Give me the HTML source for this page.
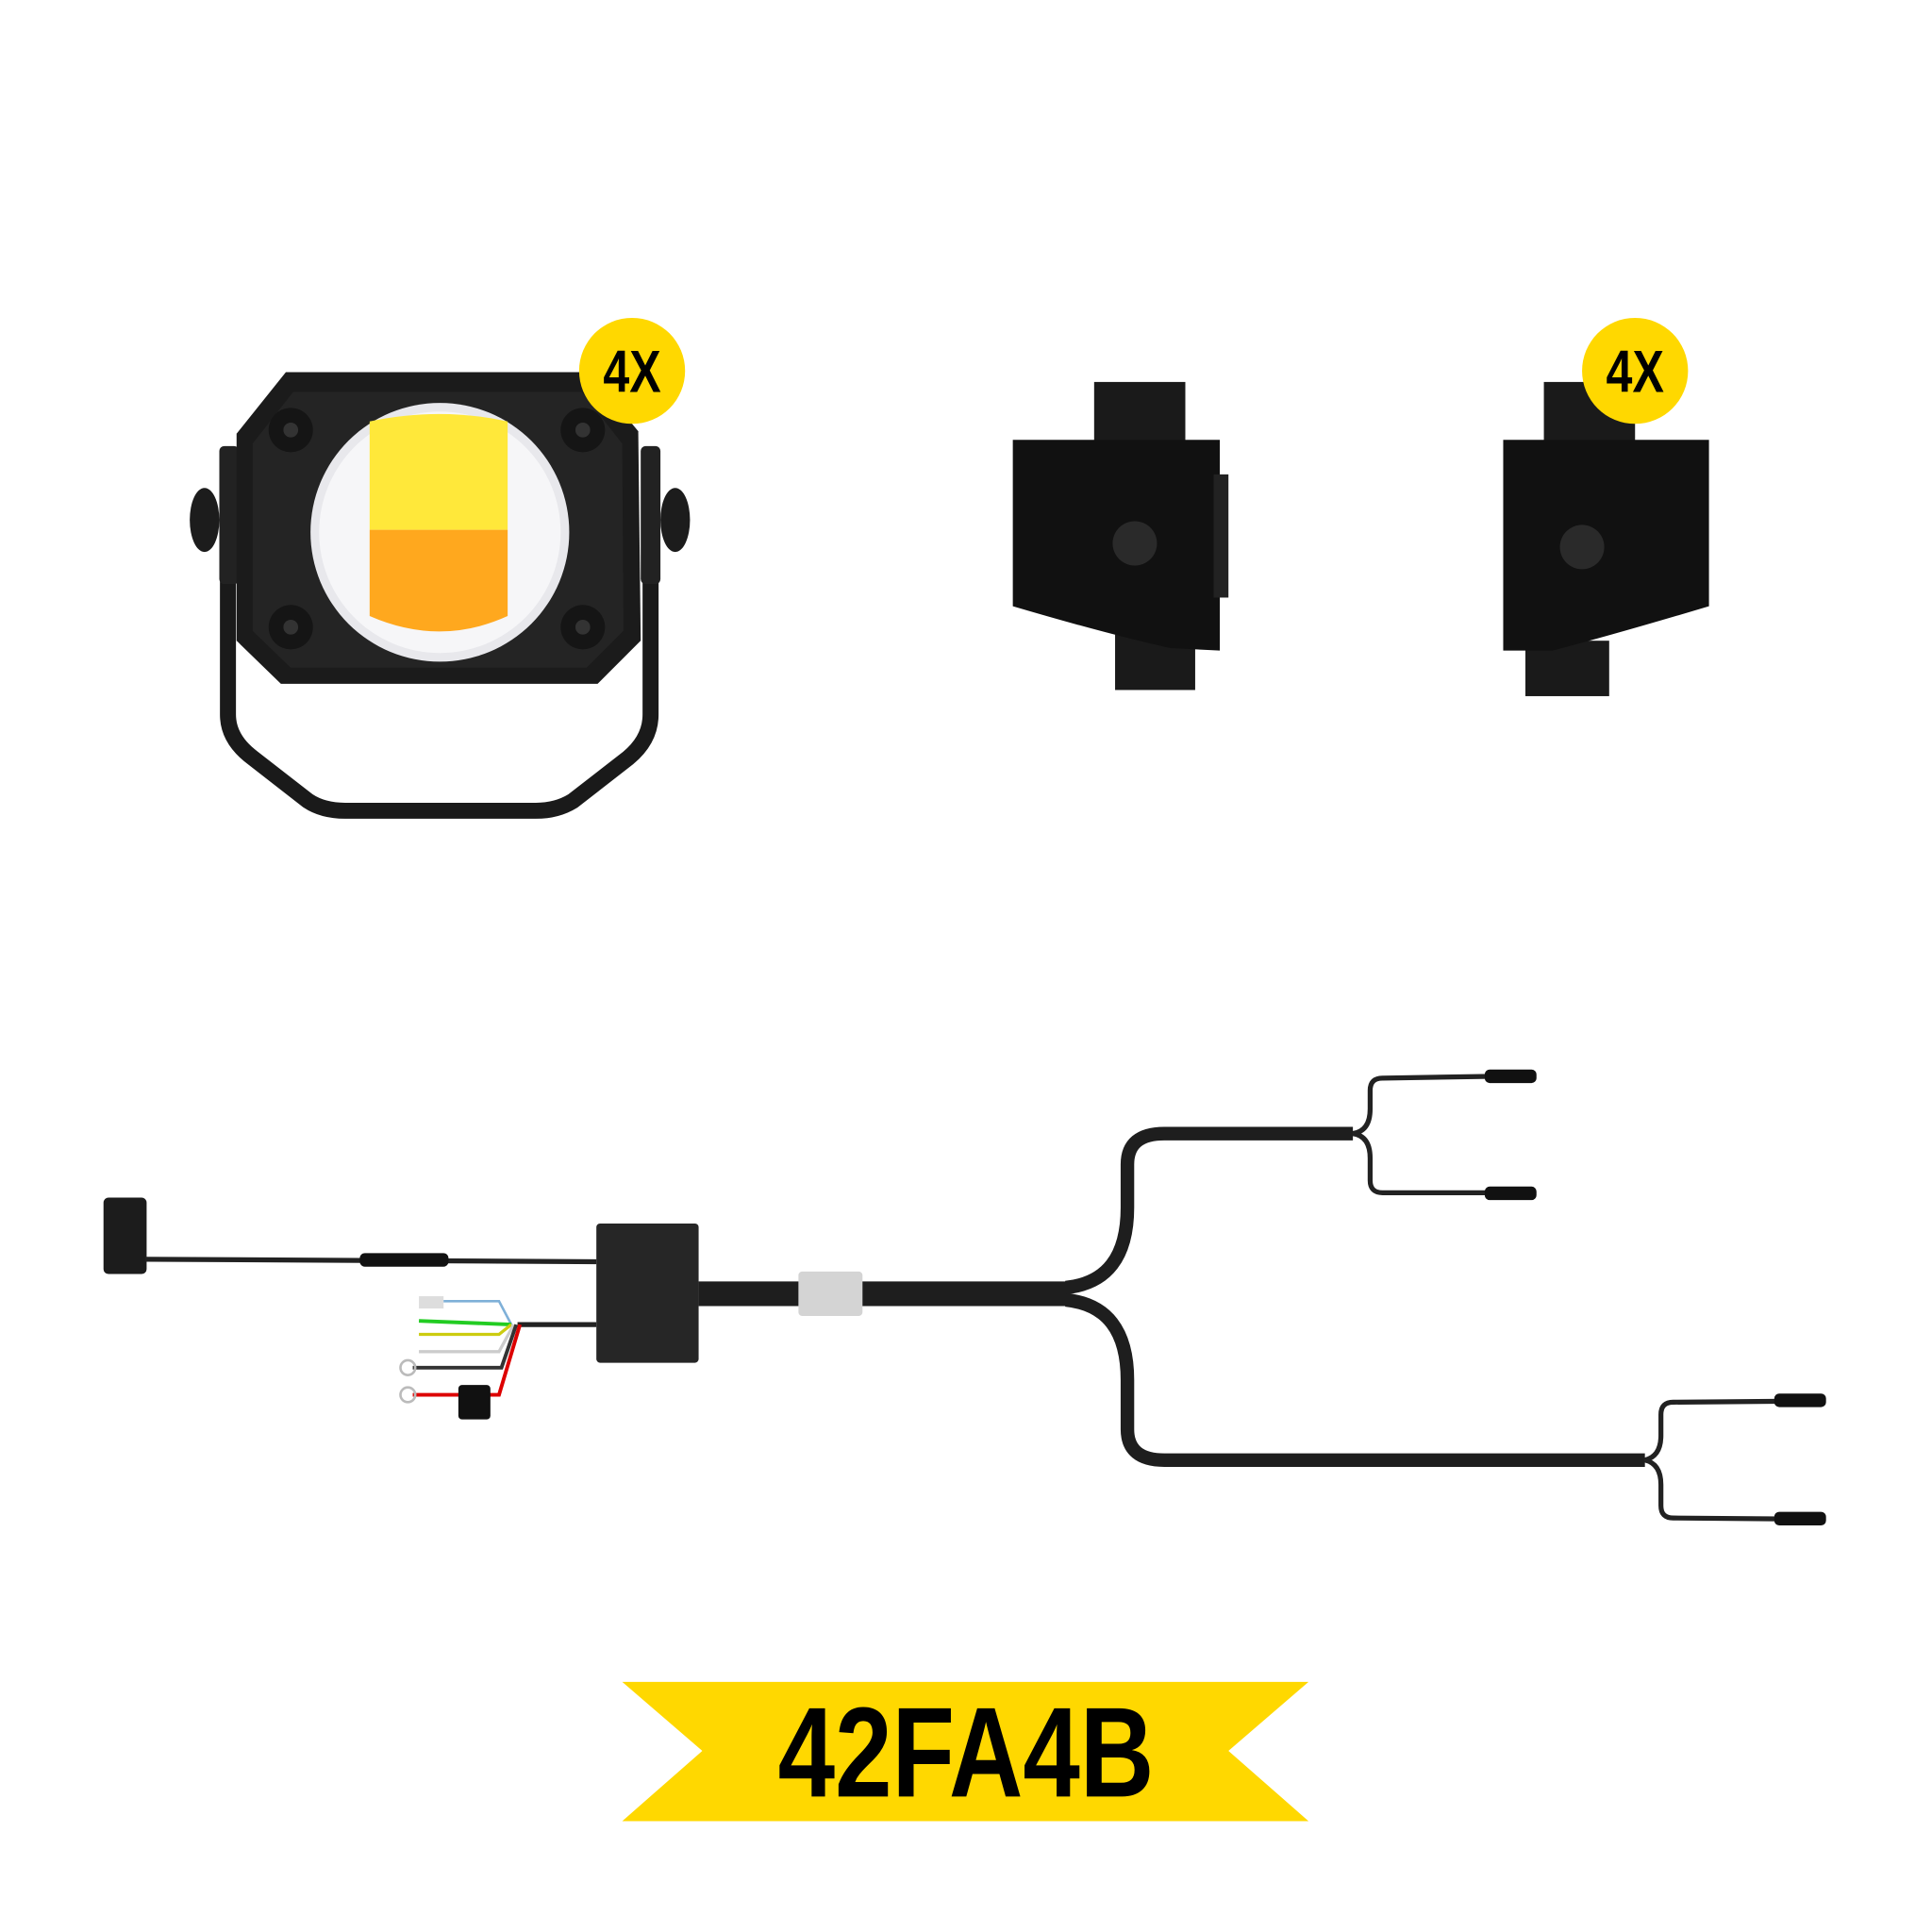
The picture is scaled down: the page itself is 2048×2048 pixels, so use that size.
<!DOCTYPE html>
<html><head><style>html,body{margin:0;padding:0;background:#fff}svg{display:block}</style></head>
<body>
<svg width="2048" height="2048" viewBox="0 0 1568 1568" xmlns="http://www.w3.org/2000/svg">
<rect width="1568" height="1568" fill="#fff"/>
<!-- Light -->
<path d="M185 370 L185 580 Q185 600 205 615 L250 650 Q262 658 280 658 L435 658 Q452 658 465 650 L510 615 Q528 600 528 580 L528 370" fill="none" stroke="#1a1a1a" stroke-width="13"/>
<rect x="178" y="362" width="16" height="112" rx="4" fill="#222"/>
<rect x="520" y="362" width="16" height="112" rx="4" fill="#222"/>
<ellipse cx="166" cy="422" rx="12" ry="26" fill="#1c1c1c"/>
<ellipse cx="548" cy="422" rx="12" ry="26" fill="#1c1c1c"/>
<path d="M192 352 L232 302 L478 302 L518 350 L520 520 L485 555 L228 555 L192 520 Z" fill="#1b1b1b"/>
<path d="M205 360 L238 318 L472 318 L505 360 L506 512 L476 542 L236 542 L205 512 Z" fill="#242424"/>
<circle cx="357" cy="432" r="105" fill="#e8e8ec"/>
<circle cx="357" cy="432" r="98" fill="#f6f6f8"/>
<path d="M300 342 Q357 330 412 342 L412 430 L300 430 Z" fill="#ffe83a"/>
<path d="M300 430 L412 430 L412 500 Q357 525 300 500 Z" fill="#ffa81e"/>
<circle cx="236" cy="349" r="18" fill="#151515"/><circle cx="236" cy="349" r="6" fill="#333"/>
<circle cx="473" cy="349" r="18" fill="#151515"/><circle cx="473" cy="349" r="6" fill="#333"/>
<circle cx="236" cy="509" r="18" fill="#151515"/><circle cx="236" cy="509" r="6" fill="#333"/>
<circle cx="473" cy="509" r="18" fill="#151515"/><circle cx="473" cy="509" r="6" fill="#333"/>
<circle cx="513" cy="301" r="43" fill="#ffd800"/>
<text transform="translate(513,318) scale(0.8,1)" text-anchor="middle" font-family="Liberation Sans Narrow, Liberation Sans, sans-serif" font-weight="bold" font-size="48" fill="#000">4X</text>
<!-- Bracket 1 -->
<rect x="888" y="310" width="74" height="52" fill="#1a1a1a"/>
<rect x="905" y="515" width="65" height="45" fill="#1a1a1a"/>
<path d="M822 357 L990 357 L990 528 L950 526 Q900 515 822 492 Z" fill="#111"/>
<rect x="985" y="385" width="12" height="100" fill="#222"/>
<circle cx="921" cy="441" r="18" fill="#2a2a2a"/>
<!-- Bracket 2 -->
<rect x="1253" y="310" width="74" height="52" fill="#1a1a1a"/>
<rect x="1238" y="520" width="68" height="45" fill="#1a1a1a"/>
<path d="M1220 357 L1387 357 L1387 492 Q1310 515 1260 528 L1220 528 Z" fill="#111"/>
<circle cx="1284" cy="444" r="18" fill="#2a2a2a"/>
<circle cx="1327" cy="301" r="43" fill="#ffd800"/>
<text transform="translate(1327,318) scale(0.8,1)" text-anchor="middle" font-family="Liberation Sans Narrow, Liberation Sans, sans-serif" font-weight="bold" font-size="48" fill="#000">4X</text>
<!-- Harness -->
<rect x="84" y="972" width="35" height="62" rx="4" fill="#1c1c1c"/>
<line x1="118" y1="1022" x2="484" y2="1024" stroke="#222" stroke-width="4"/>
<rect x="292" y="1017" width="72" height="11" rx="4" fill="#111"/>
<line x1="420" y1="1075" x2="484" y2="1075" stroke="#222" stroke-width="4"/>
<rect x="340" y="1052" width="20" height="10" fill="#ddd"/>
<polyline points="360,1056 405,1056 415,1075" fill="none" stroke="#7fb0d8" stroke-width="2"/>
<polyline points="340,1072 415,1075" fill="none" stroke="#22cc22" stroke-width="3"/>
<polyline points="340,1083 405,1083 415,1075" fill="none" stroke="#cccc10" stroke-width="2.5"/>
<polyline points="340,1097 405,1097 417,1075" fill="none" stroke="#ccc" stroke-width="2.5"/>
<polyline points="335,1110 407,1110 419,1075" fill="none" stroke="#333" stroke-width="3"/>
<polyline points="335,1132 405,1132 422,1075" fill="none" stroke="#d00" stroke-width="3"/>
<circle cx="331" cy="1110" r="6" fill="none" stroke="#bbb" stroke-width="2"/>
<circle cx="331" cy="1132" r="6" fill="none" stroke="#bbb" stroke-width="2"/>
<rect x="372" y="1124" width="26" height="28" rx="3" fill="#111"/>
<rect x="484" y="993" width="83" height="113" rx="3" fill="#262626"/>
<line x1="567" y1="1050" x2="868" y2="1050" stroke="#1e1e1e" stroke-width="20"/>
<rect x="648" y="1032" width="52" height="36" rx="3" fill="#d4d4d4"/>
<path d="M865 1045 Q915 1040 915 980 L915 945 Q915 920 945 920 L1098 920" fill="none" stroke="#1e1e1e" stroke-width="11"/>
<path d="M1098 920 Q1112 918 1112 900 L1112 885 Q1112 875 1122 875 L1245 873" fill="none" stroke="#222" stroke-width="4"/>
<path d="M1098 920 Q1112 922 1112 940 L1112 958 Q1112 968 1122 968 L1245 968" fill="none" stroke="#222" stroke-width="4"/>
<rect x="1205" y="868" width="42" height="11" rx="4" fill="#111"/>
<rect x="1205" y="963" width="42" height="11" rx="4" fill="#111"/>
<path d="M865 1055 Q915 1060 915 1120 L915 1160 Q915 1185 945 1185 L1335 1185" fill="none" stroke="#1e1e1e" stroke-width="11"/>
<path d="M1335 1185 Q1348 1182 1348 1165 L1348 1148 Q1348 1138 1358 1138 L1480 1137" fill="none" stroke="#222" stroke-width="4"/>
<path d="M1335 1185 Q1348 1188 1348 1205 L1348 1222 Q1348 1232 1358 1232 L1480 1233" fill="none" stroke="#222" stroke-width="4"/>
<rect x="1440" y="1131" width="42" height="11" rx="4" fill="#111"/>
<rect x="1440" y="1227" width="42" height="11" rx="4" fill="#111"/>
<!-- Banner -->
<path d="M505 1365 L1062 1365 L997 1421 L1062 1478 L505 1478 L570 1421 Z" fill="#ffd800"/>
<text transform="translate(784,1458) scale(0.8,1)" text-anchor="middle" font-family="Liberation Sans Narrow, Liberation Sans, sans-serif" font-weight="bold" font-size="104" fill="#000">42FA4B</text>
</svg>
</body></html>
